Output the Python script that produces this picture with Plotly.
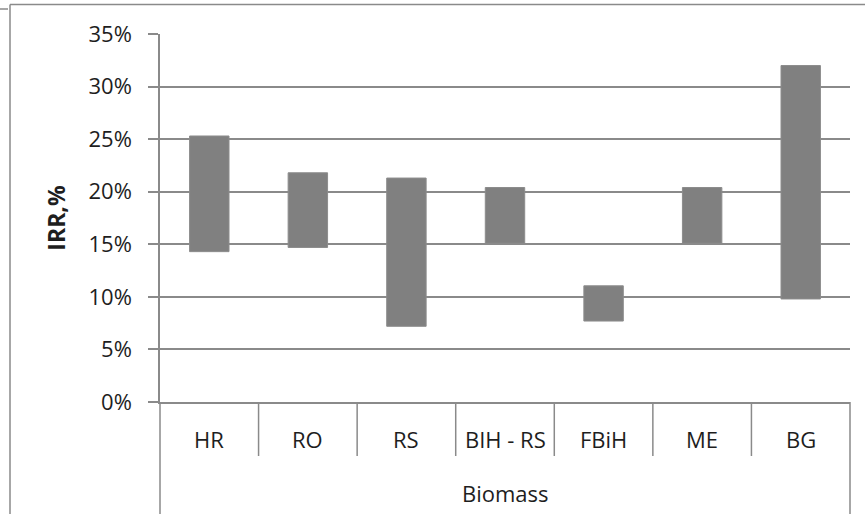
import plotly.graph_objects as go

# IRR ranges (low / high) per country for biomass plants
categories = ["HR", "RO", "RS", "BIH - RS", "FBiH", "ME", "BG"]
irr_low = [0.143, 0.147, 0.072, 0.151, 0.077, 0.151, 0.098]
irr_high = [0.253, 0.218, 0.213, 0.204, 0.1105, 0.204, 0.320]
group_label = "Biomass"
y_ticks = [0, 0.05, 0.10, 0.15, 0.20, 0.25, 0.30, 0.35]
y_ticktext = ["0%", "5%", "10%", "15%", "20%", "25%", "30%", "35%"]

W, H = 865, 514
ML, MR, MT, MB = 160, 15, 34, 112
PW, PH = W - ML - MR, H - MT - MB

FONT = "Open Sans"
TXT = "#1e1e1e"
LINE = "#8a8a8a"
FS = 22


def px_x(px):
    return (px - ML) / PW


def px_y(py):
    return (H - MB - py) / PH


fig = go.Figure()
fig.add_trace(go.Bar(
    x=categories,
    y=[h - l for l, h in zip(irr_low, irr_high)],
    base=irr_low,
    marker=dict(color="#808080", line=dict(color="#8c8c8c", width=1)),
    width=0.4,
    hoverinfo="skip",
))

shapes = []
n = len(categories)
# separators between category labels
for k in range(1, n):
    shapes.append(dict(type="line", xref="paper", yref="paper",
                       x0=k / n, x1=k / n, y0=0, y1=px_y(456),
                       line=dict(color=LINE, width=1.5)))
# outer edges of the category table
for xe in (0, 1):
    shapes.append(dict(type="line", xref="paper", yref="paper",
                       x0=xe, x1=xe, y0=0, y1=px_y(H),
                       line=dict(color=LINE, width=1.5)))
# chart frame
shapes.append(dict(type="line", xref="paper", yref="paper",
                   x0=px_x(10), x1=px_x(W), y0=px_y(4.5), y1=px_y(4.5),
                   line=dict(color=LINE, width=1.5)))
shapes.append(dict(type="line", xref="paper", yref="paper",
                   x0=px_x(10), x1=px_x(10), y0=px_y(4.5), y1=px_y(H),
                   line=dict(color=LINE, width=1.5)))
shapes.append(dict(type="line", xref="paper", yref="paper",
                   x0=px_x(0), x1=px_x(8), y0=px_y(9), y1=px_y(9),
                   line=dict(color=LINE, width=1.5)))

annotations = []
for c in categories:
    annotations.append(dict(x=c, xref="x", y=px_y(439), yref="paper",
                            text=c, showarrow=False, xanchor="center",
                            yanchor="middle",
                            font=dict(family=FONT, size=FS, color=TXT)))
annotations.append(dict(x=0.5, xref="paper", y=px_y(493), yref="paper",
                        text=group_label, showarrow=False, xanchor="center",
                        yanchor="middle",
                        font=dict(family=FONT, size=FS, color=TXT)))

fig.update_layout(
    width=W, height=H,
    margin=dict(l=ML, r=MR, t=MT, b=MB, pad=0),
    paper_bgcolor="white", plot_bgcolor="white",
    showlegend=False,
    bargap=0.6,
    shapes=shapes,
    annotations=annotations,
    xaxis=dict(
        type="category", range=[-0.5, n - 0.5],
        showticklabels=False, ticks="",
        showline=True, linecolor=LINE, linewidth=1.5,
        showgrid=False, zeroline=False, fixedrange=True,
    ),
    yaxis=dict(
        range=[0, 0.35], tickvals=y_ticks, ticktext=y_ticktext,
        ticks="outside", ticklen=10, tickcolor=LINE, tickwidth=1.5,
        ticklabelstandoff=12,
        showline=True, linecolor=LINE, linewidth=1.5,
        showgrid=True, gridcolor=LINE, gridwidth=1.5,
        zeroline=False,
        tickfont=dict(family=FONT, size=FS, color=TXT),
        title=dict(text="<b>IRR,%</b>", standoff=16,
                   font=dict(family=FONT, size=FS + 1, color=TXT)),
        fixedrange=True,
    ),
)

fig.write_html("out.html")
